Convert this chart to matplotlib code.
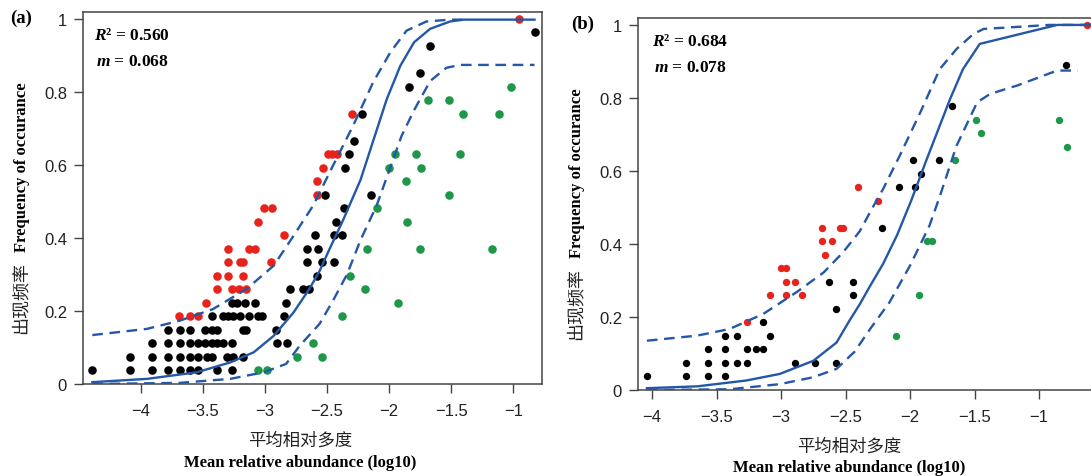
import matplotlib
matplotlib.use('Agg')
import matplotlib.pyplot as plt

plt.rcParams['font.family'] = ['Liberation Sans', 'Noto Sans CJK SC']
plt.rcParams['mathtext.fontset'] = 'custom'
plt.rcParams['mathtext.it'] = 'Liberation Serif:italic:bold'
plt.rcParams['mathtext.rm'] = 'Liberation Serif:bold'

n_samples = 27

# ---- panel (a): occurrence counts (out of 27) and mean relative abundance (log10)
a_black_x = [-4.39, -4.089, -3.906, -3.782, -3.685, -3.605, -3.538, -3.384, -3.269,
             -4.089, -3.906, -3.782, -3.685, -3.605, -3.538, -3.470, -3.425, -3.309, -3.255, -3.175,
             -3.906, -3.782, -3.685, -3.605, -3.538, -3.484, -3.430, -3.384, -3.336, -3.269, -2.901, -2.820,
             -3.782, -3.685, -3.605, -3.484, -3.430, -3.384, -3.180, -3.153, -2.914,
             -3.425, -3.341, -3.296, -3.255, -3.202, -3.126, -3.054, -3.027, -2.847,
             -3.269, -3.228, -3.161, -3.081, -2.833,
             -2.798, -2.696, -2.643,
             -2.578,
             -2.659, -2.538, -2.444,
             -2.659, -2.572,
             -2.594, -2.441, -2.382,
             -2.427, -2.368, -2.521, -2.148, -2.36, -2.323, -2.28, -2.220,
             -1.841, -1.75, -1.669, -0.828]
a_black_k = [1] * 9 + [2] * 11 + [3] * 12 + [4] * 9 + [5] * 9 + [6] * 5 + [7] * 3 + [8] + \
            [9] * 3 + [10] * 2 + [11] * 3 + [12, 13, 14, 14, 16, 17, 18, 20, 22, 23, 25, 26]

a_red_x = [-3.69, -3.605, -3.538, -3.477,
           -3.384, -3.269, -3.207, -3.156,
           -3.384, -3.301, -3.175,
           -3.301, -3.202, -3.175, -2.954,
           -3.301, -3.129, -3.081,
           -2.847, -3.059, -3.006, -2.946,
           -2.583, -2.583, -2.535, -2.494, -2.457, -2.422, -2.301, -0.952]
a_red_k = [5, 5, 5, 6, 7, 7, 7, 7, 8, 8, 8, 9, 9, 9, 9, 10, 10, 10,
           11, 12, 13, 13, 14, 15, 16, 17, 17, 17, 20, 27]

a_green_x = [-3.054, -2.986, -2.745, -2.545, -2.613, -2.377, -1.933, -2.191, -2.315,
             -2.18, -1.755, -1.172, -1.857, -2.099, -1.516, -1.868, -1.998, -1.745,
             -1.952, -1.782, -1.427, -1.409, -1.113, -1.688, -1.516, -1.019]
a_green_k = [1, 1, 2, 2, 3, 5, 6, 7, 8, 10, 10, 10, 12, 13, 14, 15, 16, 16,
             17, 17, 17, 20, 20, 21, 21, 22]

a_fit_x = [-4.39, -3.95, -3.55, -3.28, -3.09, -2.93, -2.77, -2.64, -2.56, -2.48,
           -2.37, -2.23, -2.13, -2.02, -1.91, -1.80, -1.67, -1.51, -1.40, -0.83]
a_fit_y = [0.005, 0.014, 0.032, 0.059, 0.087, 0.132, 0.196, 0.262, 0.31, 0.37,
           0.45, 0.56, 0.665, 0.78, 0.872, 0.936, 0.973, 0.993, 0.998, 0.998]
a_up_x = [-4.39, -3.95, -3.69, -3.42, -3.15, -2.93, -2.77, -2.61, -2.53, -2.45,
          -2.29, -2.13, -1.99, -1.86, -1.70, -1.51, -1.40]
a_up_y = [0.134, 0.151, 0.173, 0.205, 0.26, 0.324, 0.406, 0.49, 0.545, 0.60,
          0.708, 0.826, 0.909, 0.968, 0.993, 0.998, 0.998]
a_lo_x = [-4.39, -3.69, -3.28, -3.01, -2.83, -2.72, -2.56, -2.45, -2.34, -2.23,
          -2.10, -2.00, -1.90, -1.80, -1.67, -1.54, -1.43, -0.83]
a_lo_y = [0.0, 0.003, 0.014, 0.032, 0.055, 0.105, 0.165, 0.23, 0.30, 0.395,
          0.49, 0.585, 0.68, 0.75, 0.83, 0.866, 0.874, 0.874]

# ---- panel (b)
b_black_x = [-4.041, -3.739, -3.563, -3.437,
             -3.739, -3.563, -3.437, -3.339, -3.264, -2.894, -2.736, -2.576,
             -3.563, -3.437, -3.264, -3.194, -3.137,
             -3.437, -3.339, -3.085,
             -3.137, -2.576, -2.44, -2.625, -2.44, -2.22,
             -2.085, -1.961, -1.917, -1.979, -1.778, -1.672, -0.791]
b_black_k = [1] * 4 + [2] * 8 + [3] * 5 + [4] * 3 + [5, 6, 7, 8, 8, 12, 15, 15, 16, 17, 17, 21, 24]

b_red_x = [-3.264, -3.085, -2.964, -2.837, -2.964, -2.894, -3.003, -2.964,
           -2.659, -2.680, -2.607, -2.680, -2.543, -2.517, -2.246, -2.405, -0.626]
b_red_k = [5, 7, 7, 7, 8, 8, 9, 9, 10, 11, 11, 12, 12, 12, 14, 15, 27]

b_green_x = [-2.109, -1.93, -1.866, -1.832, -1.651, -1.450, -1.488, -0.843, -0.781]
b_green_k = [4, 7, 11, 11, 17, 19, 20, 20, 18]

b_fit_x = [-4.04, -3.65, -3.27, -3.01, -2.75, -2.57, -2.47, -2.39, -2.31, -2.21,
           -2.10, -1.99, -1.87, -1.69, -1.59, -1.46, -0.86, -0.60]
b_fit_y = [0.005, 0.010, 0.026, 0.044, 0.08, 0.13, 0.19, 0.235, 0.285, 0.345,
           0.425, 0.52, 0.633, 0.797, 0.879, 0.948, 1.0, 1.0]
b_up_x = [-4.04, -3.65, -3.40, -3.14, -2.88, -2.67, -2.52, -2.39, -2.29, -2.21,
          -2.08, -1.92, -1.77, -1.64, -1.51, -1.43, -0.92, -0.60]
b_up_y = [0.135, 0.149, 0.167, 0.208, 0.268, 0.322, 0.377, 0.435, 0.50, 0.55,
          0.642, 0.761, 0.879, 0.934, 0.975, 0.989, 1.0, 1.0]
b_lo_x = [-4.04, -3.40, -3.01, -2.75, -2.57, -2.43, -2.31, -2.16, -2.00, -1.85,
          -1.77, -1.64, -1.48, -1.38, -1.17, -0.86, -0.70]
b_lo_y = [0.0, 0.002, 0.016, 0.035, 0.058, 0.105, 0.167, 0.24, 0.341, 0.45,
          0.53, 0.669, 0.788, 0.811, 0.834, 0.875, 0.875]

xtick_vals = [-4, -3.5, -3, -2.5, -2, -1.5, -1]
xtick_labels = ['\u22124', '\u22123.5', '\u22123', '\u22122.5', '\u22122', '\u22121.5', '\u22121']
ytick_vals = [0, 0.2, 0.4, 0.6, 0.8, 1]
ytick_labels = ['0', '0.2', '0.4', '0.6', '0.8', '1']

blue = '#2457a7'
red = '#e8231c'
green = '#1f9748'
spine_col = '#444444'
serif = 'Liberation Serif'
cjk = 'Noto Sans CJK SC'

fig = plt.figure(figsize=(10.91, 4.77), dpi=100)
ax_a = fig.add_axes([0.0761, 0.1929, 0.4207, 0.7799])
ax_b = fig.add_axes([0.5848, 0.1803, 0.4180, 0.7799])


def draw(ax, bx, bk, rx, rk, gx, gk, fx, fy, ux, uy, lx, ly, r2, m, xlim, s, txt_x):
    ax.scatter(bx, [k / n_samples for k in bk], s=s, color='black', lw=0, zorder=3)
    ax.scatter(rx, [k / n_samples for k in rk], s=s, color=red, lw=0, zorder=3)
    ax.scatter(gx, [k / n_samples for k in gk], s=s, color=green, lw=0, zorder=3)
    ax.plot(fx, fy, color=blue, lw=1.7, zorder=4)
    ax.plot(ux, uy, color=blue, lw=1.7, dashes=(4.5, 2.8), zorder=4)
    ax.plot(lx, ly, color=blue, lw=1.7, dashes=(4.5, 2.8), zorder=4)
    ax.set_xlim(*xlim)
    ax.set_ylim(0, 1.019)
    ax.set_xticks(xtick_vals)
    ax.set_xticklabels(xtick_labels)
    ax.set_yticks(ytick_vals)
    ax.set_yticklabels(ytick_labels)
    ax.tick_params(direction='out', length=6.5, width=1, color=spine_col,
                   labelsize=12, pad=5, labelcolor='#222222')
    ax.tick_params(axis='x', pad=7)
    for sp in ax.spines.values():
        sp.set_color(spine_col)
        sp.set_linewidth(1.1)
    ax.text(txt_x, 0.937, '$R$\u00b2 = ' + r2, transform=ax.transAxes, va='center',
            family=serif, weight='bold', fontsize=12.5)
    ax.text(txt_x + 0.005, 0.868, '$m$ = ' + m, transform=ax.transAxes, va='center',
            family=serif, weight='bold', fontsize=12.5)
    ax.text(-0.136, 0.235, '出现频率', transform=ax.transAxes, rotation=90,
            ha='center', va='center', family=cjk, fontsize=13, color='#222222')
    ax.text(-0.134, 0.585, 'Frequency of occurance', transform=ax.transAxes, rotation=90,
            ha='center', va='center', family=serif, weight='bold', fontsize=12)


draw(ax_a, a_black_x, a_black_k, a_red_x, a_red_k, a_green_x, a_green_k,
     a_fit_x, a_fit_y, a_up_x, a_up_y, a_lo_x, a_lo_y, '0.560', '0.068',
     (-4.465, -0.77), 38, 0.024)
draw(ax_b, b_black_x, b_black_k, b_red_x, b_red_k, b_green_x, b_green_k,
     b_fit_x, b_fit_y, b_up_x, b_up_y, b_lo_x, b_lo_y, '0.684', '0.078',
     (-4.109, -0.574), 28, 0.031)

ax_a.text(0.473, -0.150, '平均相对多度', transform=ax_a.transAxes, ha='center', va='center',
          family=cjk, fontsize=12.5, color='#222222')
ax_a.text(0.473, -0.209, 'Mean relative abundance (log10)', transform=ax_a.transAxes,
          ha='center', va='center', family=serif, weight='bold', fontsize=12)
ax_b.text(0.462, -0.150, '平均相对多度', transform=ax_b.transAxes, ha='center', va='center',
          family=cjk, fontsize=12.5, color='#222222')
ax_b.text(0.462, -0.206, 'Mean relative abundance (log10)', transform=ax_b.transAxes,
          ha='center', va='center', family=serif, weight='bold', fontsize=12)

fig.text(0.0193, 0.962, '(a)', ha='center', va='center', family=serif, weight='bold', fontsize=13.5)
fig.text(0.534, 0.948, '(b)', ha='center', va='center', family=serif, weight='bold', fontsize=13.5)

fig.savefig('out.png', dpi=100)
